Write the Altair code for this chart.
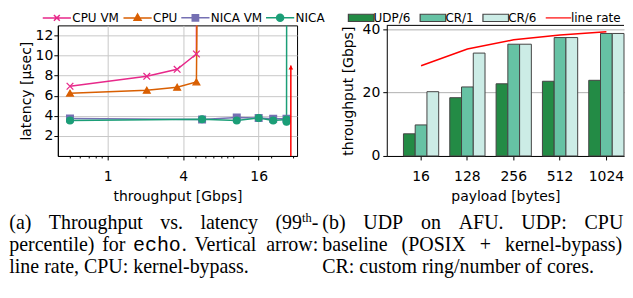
import altair as alt
import pandas as pd

# ---------------- panel (a): throughput vs. latency ----------------
SERIES_A = ["CPU VM", "CPU", "NICA VM", "NICA"]
COLORS_A = ["#e7298a", "#d95f02", "#7570b3", "#1b9e77"]

cpu_vm_tput = [0.5, 2.05, 3.58, 5.1]
cpu_vm_lat = [6.94, 7.93, 8.63, 10.15]
cpu_tput = [0.5, 2.05, 3.58, 5.1]
cpu_lat = [6.25, 6.54, 6.84, 7.37]
nica_vm_tput = [0.5, 5.66, 10.7, 16.0, 20.9, 26.7]
nica_vm_lat = [3.72, 3.62, 3.84, 3.77, 3.7, 3.7]
nica_tput = [0.5, 5.66, 10.7, 16.0, 20.9, 26.7, 26.7]
nica_lat = [3.52, 3.66, 3.52, 3.78, 3.52, 3.62, 3.4]
sat_series = ["CPU VM", "CPU", "NICA"]
sat_tput = [5.15, 5.38, 26.9]
sat_lat = [40, 40, 40]
line_rate_tput = 28.9
line_rate_top = 9.0

X_MAJOR = [1, 4, 16]
X_MINOR = [0.5, 0.6, 0.7, 0.8, 0.9, 2, 3, 5, 6, 7, 8, 9, 10, 20, 30]
Y_TICKS_A = [2, 4, 6, 8, 10, 12]

# ---------------- panel (b): UDP on AFU ----------------
PAYLOADS = ["16", "128", "256", "512", "1024"]
BAR_SERIES = ["UDP/6", "CR/1", "CR/6"]
BAR_COLORS = ["#238b45", "#66c2a4", "#ccece6"]
udp6 = [7.0, 18.4, 22.8, 23.6, 23.9]
cr1 = [9.8, 21.8, 35.3, 37.4, 38.7]
cr6 = [20.3, 32.5, 35.3, 37.4, 38.7]
line_rate = [28.5, 33.8, 36.7, 38.2, 39.2]
Y_TICKS_B = [0, 20, 40]

SERIF = "Liberation Serif"
MONO = "Liberation Mono"
SANS = "DejaVu Sans"
CAP_A = 20
CAP_B = 20

# Times-Roman advance widths (em) for justifying the caption lines
TW = {" ": .25, "(": .333, ")": .333, "a": .444, "b": .5, "c": .444, "d": .5, "e": .444, "f": .333,
      "g": .5, "h": .5, "i": .278, "k": .5, "l": .278, "m": .778, "n": .5, "o": .5, "p": .5, "r": .333,
      "s": .389, "t": .278, "u": .5, "v": .5, "w": .722, "y": .5, "A": .722, "C": .667, "D": .722,
      "F": .556, "I": .333, "O": .722, "P": .556, "R": .667, "S": .556, "T": .611, "U": .722, "V": .722,
      "X": .722, "9": .5, ":": .278, ",": .25, ".": .25, "-": .333, "/": .278, "+": .564}


def tw(s, size):
    return sum(TW.get(c, .5) for c in s) * size


# ---------------- tables ----------------
rows = []
for name, xs, ys in [("CPU VM", cpu_vm_tput, cpu_vm_lat), ("CPU", cpu_tput, cpu_lat),
                     ("NICA VM", nica_vm_tput, nica_vm_lat), ("NICA", nica_tput, nica_lat)]:
    for i, (x, y) in enumerate(zip(xs, ys)):
        rows.append({"series": name, "tput": x, "lat": y, "idx": i})
points_df = pd.DataFrame(rows)
sat_df = pd.DataFrame({"series": sat_series, "tput": sat_tput, "lat": sat_lat, "idx": [99] * 3})
lines_df = pd.concat([points_df, sat_df], ignore_index=True)
legend_a_df = pd.DataFrame({"series": SERIES_A})

bar_rows = []
for name, vals in zip(BAR_SERIES, [udp6, cr1, cr6]):
    for p, v in zip(PAYLOADS, vals):
        bar_rows.append({"payload": p, "series": name, "tput": v})
bars_df = pd.DataFrame(bar_rows)
rate_df = pd.DataFrame({"payload": PAYLOADS, "rate": line_rate})
legend_b_df = pd.DataFrame({"series": BAR_SERIES + ["line rate"]})

one_row = pd.DataFrame({"k": [0]})


def caption(txt, x, y, size, font=SERIF, limit=None):
    kw = dict(text=txt, font=font, fontSize=size, align="left", baseline="alphabetic", color="black")
    if limit is not None:
        kw["limit"] = limit
        kw["ellipsis"] = "\u200b"
    return alt.Chart(one_row).mark_text(**kw).encode(x=alt.value(x), y=alt.value(y))


def justified(words, x0, x1, widths):
    gap = (x1 - x0 - sum(widths)) / (len(words) - 1)
    out, x = [], x0
    for w, wd in zip(words, widths):
        out.append((w, x))
        x += wd + gap
    return out


# ---------------- panel (a) chart ----------------
W_A, H_A = 240, 131
major_test = " || ".join(f"datum.value == {v}" for v in X_MAJOR)
x_axis_a = alt.Axis(
    values=sorted(X_MAJOR + X_MINOR), title="throughput [Gbps]",
    labelExpr=f"({major_test}) ? toString(datum.value) : ''",
    tickSize={"condition": {"test": major_test, "value": 4}, "value": 2},
    gridOpacity={"condition": {"test": major_test, "value": 1}, "value": 0},
    grid=True, labelPadding=10, titlePadding=6, labelFlush=False, labelOverlap=False)
y_axis_a = alt.Axis(values=Y_TICKS_A, title="latency [μsec]", grid=True,
                    labelPadding=1, titlePadding=2, labelOverlap=False, labelBound=False)
xa = alt.X("tput:Q", scale=alt.Scale(type="log", domain=[0.40, 32.4], nice=False, zero=False), axis=x_axis_a)
ya = alt.Y("lat:Q", scale=alt.Scale(domain=[0, 13], nice=False, zero=False), axis=y_axis_a)

lines_a = alt.Chart(lines_df).mark_line(clip=True, strokeWidth=1.5).encode(
    x=xa, y=ya,
    color=alt.Color("series:N", scale=alt.Scale(domain=SERIES_A, range=COLORS_A), legend=None),
    order="idx:Q")

marker_shapes = ["M-1,-1L1,1M-1,1L1,-1", "triangle-up", "square", "circle"]
points_a = alt.Chart(points_df).mark_point(filled=True, opacity=1, size=45, strokeWidth=1.3).encode(
    x=xa, y=ya,
    fill=alt.Fill("series:N", scale=alt.Scale(domain=SERIES_A, range=COLORS_A), legend=None),
    stroke=alt.Stroke("series:N", scale=alt.Scale(domain=SERIES_A, range=COLORS_A), legend=None),
    shape=alt.Shape("series:N", scale=alt.Scale(domain=SERIES_A, range=marker_shapes), legend=None))

arrow_rule = alt.Chart(one_row).mark_rule(color="red", strokeWidth=1.5).encode(
    x=alt.X(datum=line_rate_tput, axis=x_axis_a), y=alt.Y(datum=0, axis=y_axis_a),
    y2=alt.datum(line_rate_top))
arrow_head = alt.Chart(one_row).mark_point(shape="triangle-up", filled=True, color="red", opacity=1,
                                           size=22, yOffset=2).encode(
    x=alt.X(datum=line_rate_tput, axis=x_axis_a), y=alt.Y(datum=line_rate_top, axis=y_axis_a))

LEG_Y = -16
legend_a = alt.Legend(orient="none", legendX=-9, legendY=LEG_Y, direction="horizontal", columns=4,
                      title=None, symbolSize=196, symbolStrokeWidth=1.5, labelFontSize=12,
                      labelFont=SANS, labelColor="black", labelOffset=7.5, columnPadding=0,
                      padding=0, labelLimit=200)
legend_paths_a = [
    "M-2.02,0H2.02M-0.42,-0.42L0.42,0.42M-0.42,0.42L0.42,-0.42",
    "M-2.02,0H2.02M0,-0.55L0.5,0.35L-0.5,0.35Z",
    "M-2.02,0H2.02M-0.45,-0.45H0.45V0.45H-0.45Z",
    "M-2.02,0H2.02M0.5,0A0.5,0.5 0 1,1 -0.5,0A0.5,0.5 0 1,1 0.5,0Z",
]
legend_layer_a = alt.Chart(legend_a_df).mark_point(filled=True, opacity=1).encode(
    fill=alt.Fill("series:N", scale=alt.Scale(domain=SERIES_A, range=COLORS_A), legend=legend_a),
    stroke=alt.Stroke("series:N", scale=alt.Scale(domain=SERIES_A, range=COLORS_A), legend=legend_a),
    shape=alt.Shape("series:N", scale=alt.Scale(domain=SERIES_A, range=legend_paths_a), legend=legend_a),
).transform_filter("false")

# caption (a): page positions converted to the plot origin
OXA, TOP = 56.7, 29.1
Y1, Y2, Y3 = 233.5, 255.5, 277.5
SUP = 12.5
c = CAP_A
w_99 = tw("(99", c) + tw("th", SUP) + tw("-", c)
line1_a = justified(["(a)", "Throughput", "vs.", "latency", "(99"], 8, 318,
                    [tw("(a)", c), tw("Throughput", c), tw("vs.", c), tw("latency", c), w_99])
echo_w = 4 * 0.6 * c
line2_a = justified(["percentile)", "for", "echo", "Vertical", "arrow:"], 8, 318,
                    [tw("percentile)", c), tw("for", c), echo_w + 1 + tw(".", c), tw("Vertical", c),
                     tw("arrow:", c)])
cap_a = []
for w, x in line1_a:
    cap_a.append(caption(w, x - OXA, Y1 - TOP, c))
x99 = line1_a[-1][1]
cap_a.append(caption("th", x99 + tw("(99", c) - OXA, Y1 - 7 - TOP, SUP))
cap_a.append(caption("-", x99 + tw("(99", c) + tw("th", SUP) - OXA, Y1 - TOP, c))
for w, x in line2_a:
    if w == "echo":
        cap_a.append(caption("echo", x - OXA, Y2 - TOP, c, font=MONO))
        cap_a.append(caption(".", x + echo_w + 1 - OXA, Y2 - TOP, c))
    else:
        cap_a.append(caption(w, x - OXA, Y2 - TOP, c))
cap_a.append(caption("line rate, CPU: kernel-bypass.", 8 - OXA, Y3 - TOP, c))

left = alt.layer(lines_a, points_a, arrow_rule, arrow_head, legend_layer_a, *cap_a).resolve_scale(
    fill="independent", stroke="independent", shape="independent", color="independent"
).properties(width=W_A, height=H_A, view=alt.ViewBackground(stroke="black", strokeWidth=1))

# ---------------- panel (b) chart ----------------
W_B, H_B = 238, 131
Y_TOP_B = 41.25
xb = alt.X("payload:N", sort=PAYLOADS,
           scale=alt.Scale(domain=PAYLOADS, paddingInner=0.239, paddingOuter=0.18, align=1),
           axis=alt.Axis(title="payload [bytes]", labelAngle=0, labelPadding=10, titlePadding=6,
                         grid=False, tickSize=4))
y_axis_b = alt.Axis(values=Y_TICKS_B, title="throughput [Gbps]", grid=True, gridColor="#b0b0b0",
                    labelPadding=3, titlePadding=7, labelOverlap=False)

bars = alt.Chart(bars_df).mark_bar(stroke="#444444", strokeWidth=1, opacity=1).encode(
    x=xb,
    xOffset=alt.XOffset("series:N", sort=BAR_SERIES,
                        scale=alt.Scale(domain=BAR_SERIES, paddingInner=0, paddingOuter=0)),
    y=alt.Y("tput:Q", scale=alt.Scale(domain=[0, Y_TOP_B], nice=False), axis=y_axis_b),
    fill=alt.Fill("series:N", scale=alt.Scale(domain=BAR_SERIES, range=BAR_COLORS), legend=None))

rate_line = alt.Chart(rate_df).mark_line(color="#ff0000", strokeWidth=1.5).encode(
    x=xb, y=alt.Y("rate:Q", scale=alt.Scale(domain=[0, Y_TOP_B], nice=False), axis=y_axis_b))

top_spine = alt.Chart(one_row).mark_rule(color="black", strokeWidth=1).encode(
    y=alt.Y(datum=Y_TOP_B, axis=y_axis_b))

legend_b = alt.Legend(orient="none", legendX=-33.7, legendY=LEG_Y, direction="horizontal", columns=4,
                      title=None, symbolSize=196, symbolStrokeWidth=1.2, labelFontSize=12,
                      labelFont=SANS, labelColor="black", labelOffset=4.5, columnPadding=6,
                      padding=0, labelLimit=200)
rect_path = "M-1.83,-0.52H1.83V0.52H-1.83Z"
legend_paths_b = [rect_path, rect_path, rect_path, "M-1.83,0H1.83"]
legend_layer_b = alt.Chart(legend_b_df).mark_point(filled=True, opacity=1).encode(
    fill=alt.Fill("series:N", scale=alt.Scale(domain=BAR_SERIES + ["line rate"],
                                              range=BAR_COLORS + ["#ff0000"]), legend=legend_b),
    stroke=alt.Stroke("series:N", scale=alt.Scale(domain=BAR_SERIES + ["line rate"],
                                                  range=["#444444"] * 3 + ["#ff0000"]), legend=legend_b),
    shape=alt.Shape("series:N", scale=alt.Scale(domain=BAR_SERIES + ["line rate"],
                                                range=legend_paths_b), legend=legend_b),
).transform_filter("false")

OXB = 386.7
RIGHT_EDGE = 624
c = CAP_B
words_b1 = ["(b)", "UDP", "on", "AFU.", "UDP:", "CPU"]
line1_b = justified(words_b1, 322, RIGHT_EDGE, [tw(w, c) for w in words_b1])
cap_b = [caption(w, x - OXB, Y1 - TOP, c) for w, x in line1_b]
words_b2 = ["baseline", "(POSIX", "+", "kernel-bypass),"]
line2_b = justified(words_b2, 322, 628, [tw(w, c) for w in words_b2])
for w, x in line2_b:
    cap_b.append(caption(w, x - OXB, Y2 - TOP, c, limit=max(5, RIGHT_EDGE - x)))
cap_b.append(caption("CR: custom ring/number of cores.", 322 - OXB, Y3 - TOP, c))

right = alt.layer(bars, rate_line, top_spine, legend_layer_b, *cap_b).resolve_scale(
    fill="independent", stroke="independent", shape="independent"
).properties(width=W_B, height=H_B)

chart = alt.hconcat(left, right, spacing=90, bounds="flush").properties(
    padding=0
).configure_view(
    stroke=None
).configure_axis(
    labelFont=SANS, titleFont=SANS, labelFontSize=14, titleFontSize=14, titleFontWeight="normal",
    labelColor="black", titleColor="black", domainColor="black", tickColor="black",
    domainWidth=1, tickWidth=1, tickSize=4, gridColor="#c8c8c8", gridWidth=1
).configure_axisY(labelOverlap=False)

chart.save("out.html", embed_options={"renderer": "svg", "actions": False})
